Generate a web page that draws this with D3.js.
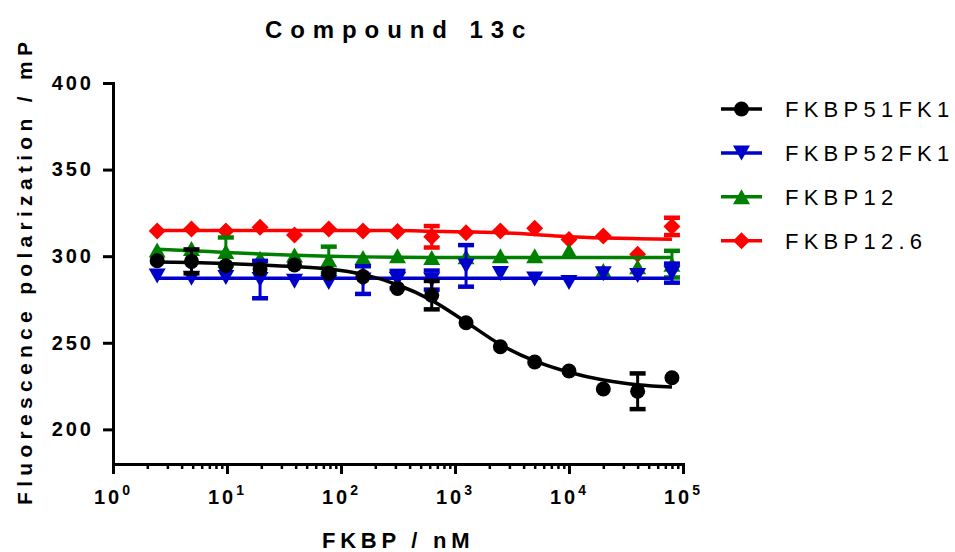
<!DOCTYPE html>
<html>
<head>
<meta charset="utf-8">
<script src="https://cdn.jsdelivr.net/npm/d3@7"></script>
<style>
  body { margin: 0; background: #fff; }
  svg { font-family: Arial, "Liberation Sans", sans-serif; }
</style>
</head>
<body>
<svg id="chart" width="955" height="552"></svg>
<script>
// FKBP concentrations (nM), 2-fold dilution series
const concentrations = [2.44, 4.88, 9.77, 19.5, 39.1, 78.1, 156, 313, 625, 1250, 2500, 5000, 10000, 20000, 40000, 80000];

// measured means / SEM per protein (mP), 0 = bar hidden by symbol
const fkbp51Values = [297.4, 297.0, 294.5, 292.6, 294.9, 290.1, 288.2, 281.4, 277.5, 261.6, 247.7, 238.9, 233.7, 223.3, 222.0, 229.8];
const fkbp51Errors = [0, 6.9, 0, 0, 0, 0, 0, 0, 8.2, 0, 0, 0, 0, 0, 10.3, 0];
const fkbp52Values = [288.5, 287.2, 287.7, 286.5, 285.5, 284.8, 286.2, 286.5, 286.2, 294.4, 290.0, 286.8, 284.8, 289.8, 288.8, 290.2];
const fkbp52Errors = [0, 0, 0, 10.8, 0, 0, 8.0, 5.0, 5.5, 12.0, 0, 0, 0, 0, 0, 5.5];
const fkbp12Values = [303.6, 304.5, 302.7, 298.8, 300.7, 298.0, 299.2, 300.2, 299.2, 299.7, 300.2, 300.2, 303.1, 291.8, 293.9, 295.4];
const fkbp12Errors = [0, 0, 8.1, 0, 0, 7.5, 0, 0, 0, 0, 0, 0, 0, 0, 0, 7.7];
const fkbp126Values = [314.5, 315.7, 314.5, 316.7, 312.2, 315.7, 314.5, 314.3, 311.2, 313.6, 314.5, 316.1, 309.7, 311.7, 301.1, 317.2];
const fkbp126Errors = [0, 0, 0, 0, 0, 0, 0, 0, 6.2, 0, 0, 0, 0, 0, 0, 5.0];

// fitted curves, read at the same concentrations
const fkbp51Fit = [296.6, 296.3, 295.8, 295.0, 294.0, 292.6, 289.5, 283.5, 274.5, 262.0, 249.0, 239.5, 233.0, 228.5, 225.8, 224.5];
const fkbp52Fit = [287.2, 287.2, 287.2, 287.2, 287.2, 287.2, 287.2, 287.2, 287.2, 287.2, 287.2, 287.2, 287.2, 287.2, 287.2, 287.2];
const fkbp12Fit = [304.0, 303.2, 302.1, 301.3, 300.6, 300.0, 299.6, 299.4, 299.3, 299.3, 299.3, 299.3, 299.3, 299.3, 299.3, 299.3];
const fkbp126Fit = [314.8, 314.8, 314.8, 314.8, 314.8, 314.8, 314.8, 314.8, 314.4, 314.0, 313.5, 312.5, 311.2, 310.5, 310.1, 309.8];

const seriesNames = ["FKBP51FK1", "FKBP52FK1", "FKBP12", "FKBP12.6"];
const seriesColors = ["#000000", "#0000cc", "#008000", "#ff0000"];
const seriesSymbols = ["circle", "triangleDown", "triangleUp", "diamond"];

const yTicks = [200, 250, 300, 350, 400];
const xMajorTicks = [1, 10, 100, 1000, 10000, 100000];
const xTickExponents = ["0", "1", "2", "3", "4", "5"];

const series = seriesNames.map((name, i) => ({
  name,
  color: seriesColors[i],
  symbol: seriesSymbols[i],
  points: concentrations.map((c, j) => ({
    conc: c,
    value: [fkbp51Values, fkbp52Values, fkbp12Values, fkbp126Values][i][j],
    err: [fkbp51Errors, fkbp52Errors, fkbp12Errors, fkbp126Errors][i][j]
  })),
  fit: concentrations.map((c, j) => ({
    conc: c,
    value: [fkbp51Fit, fkbp52Fit, fkbp12Fit, fkbp126Fit][i][j]
  }))
}));

const svg = d3.select("#chart");
const plot = { left: 113, right: 683, top: 83, bottom: 464 };

const x = d3.scaleLog().domain([1, 1e5]).range([plot.left, plot.right]);
const y = d3.scaleLinear().domain([180, 400]).range([plot.bottom, plot.top]);

// marker shapes
function symbolPath(type) {
  if (type === "circle") return d3.symbol(d3.symbolCircle, Math.PI * 7.5 * 7.5)();
  if (type === "diamond") return "M0,-8.5L8.5,0L0,8.5L-8.5,0Z";
  const w = 8.5, h = 7.5;
  if (type === "triangleUp") return `M0,${-h}L${w},${h}L${-w},${h}Z`;
  return `M0,${h}L${w},${-h}L${-w},${-h}Z`;
}

// Title
svg.append("text")
  .attr("x", 265)
  .attr("y", 38)
  .attr("font-size", 24)
  .attr("font-weight", "bold")
  .attr("letter-spacing", 7.9)
  .text("Compound 13c");

// Axes
const minorTicks = [];
xMajorTicks.slice(0, -1).forEach(d => {
  for (let k = 2; k <= 9; k++) minorTicks.push(d * k);
});

const xMinor = svg.append("g")
  .attr("transform", `translate(0,${plot.bottom})`)
  .call(d3.axisBottom(x).tickValues(minorTicks).tickSize(5).tickSizeOuter(0).tickFormat(""));
xMinor.select(".domain").remove();
xMinor.selectAll(".tick line").attr("stroke-width", 2.5);

const xAxis = svg.append("g")
  .attr("transform", `translate(0,${plot.bottom})`)
  .call(d3.axisBottom(x).tickValues(xMajorTicks).tickSize(10).tickSizeOuter(0).tickFormat(""));
xAxis.select(".domain").attr("stroke-width", 3).attr("stroke-linecap", "square");
xAxis.selectAll(".tick line").attr("stroke-width", 3);
xAxis.selectAll(".tick").each(function(d, i) {
  const t = d3.select(this).append("text")
    .attr("y", 40)
    .attr("fill", "#000")
    .attr("font-size", 20)
    .attr("font-weight", "bold")
    .attr("letter-spacing", 3)
    .attr("text-anchor", "middle")
    .attr("font-family", "Arial, 'Liberation Sans', sans-serif");
  t.append("tspan").text("10");
  t.append("tspan").attr("dy", -9).attr("font-size", 14).text(xTickExponents[i]);
});

const yAxis = svg.append("g")
  .attr("transform", `translate(${plot.left},0)`)
  .call(d3.axisLeft(y).tickValues(yTicks).tickSize(10).tickSizeOuter(0).tickPadding(9));
yAxis.select(".domain").attr("stroke-width", 3).attr("stroke-linecap", "square");
yAxis.selectAll(".tick line").attr("stroke-width", 3);
yAxis.selectAll(".tick text")
  .attr("fill", "#000")
  .attr("font-size", 20)
  .attr("font-weight", "bold")
  .attr("letter-spacing", 3)
  .attr("font-family", "Arial, 'Liberation Sans', sans-serif");

// Axis labels
svg.append("text")
  .attr("x", 322)
  .attr("y", 548)
  .attr("font-size", 22)
  .attr("font-weight", "bold")
  .attr("letter-spacing", 4.75)
  .text("FKBP / nM");

svg.append("text")
  .attr("transform", "rotate(-90)")
  .attr("x", -505)
  .attr("y", 32)
  .attr("font-size", 21)
  .attr("font-weight", "bold")
  .attr("letter-spacing", 5.3)
  .text("Fluorescence polarization / mP");

// Series (drawn back to front)
const line = d3.line()
  .x(d => x(d.conc))
  .y(d => y(d.value))
  .curve(d3.curveMonotoneX);

series.slice().reverse().forEach(s => {
  const g = svg.append("g").attr("class", "series");

  g.append("path")
    .datum(s.fit)
    .attr("fill", "none")
    .attr("stroke", s.color)
    .attr("stroke-width", 3.5)
    .attr("d", line);

  const bars = g.selectAll(".err")
    .data(s.points.filter(d => d.err > 0))
    .join("g")
    .attr("class", "err")
    .attr("stroke", s.color);
  bars.append("line")
    .attr("x1", d => x(d.conc)).attr("x2", d => x(d.conc))
    .attr("y1", d => y(d.value + d.err)).attr("y2", d => y(d.value - d.err))
    .attr("stroke-width", 3);
  bars.selectAll(".cap")
    .data(d => [d.value + d.err, d.value - d.err].map(v => ({ conc: d.conc, v })))
    .join("line")
    .attr("class", "cap")
    .attr("x1", d => x(d.conc) - 8).attr("x2", d => x(d.conc) + 8)
    .attr("y1", d => y(d.v)).attr("y2", d => y(d.v))
    .attr("stroke-width", 4.5);

  g.selectAll(".marker")
    .data(s.points)
    .join("path")
    .attr("class", "marker")
    .attr("transform", d => `translate(${x(d.conc)},${y(d.value)})`)
    .attr("fill", s.color)
    .attr("d", symbolPath(s.symbol));
});

// Legend
const legend = svg.append("g").attr("transform", "translate(721,109)");
const rows = legend.selectAll("g")
  .data(series)
  .join("g")
  .attr("transform", (d, i) => `translate(0,${i * 43.9})`);
rows.append("line")
  .attr("x1", 0).attr("x2", 41)
  .attr("stroke", d => d.color)
  .attr("stroke-width", 3.5);
rows.append("path")
  .attr("transform", "translate(20.5,0)")
  .attr("fill", d => d.color)
  .attr("d", d => symbolPath(d.symbol));
rows.append("text")
  .attr("x", 64)
  .attr("y", 8)
  .attr("font-size", 22)
  .attr("letter-spacing", 5.25)
  .text(d => d.name);
</script>
</body>
</html>
